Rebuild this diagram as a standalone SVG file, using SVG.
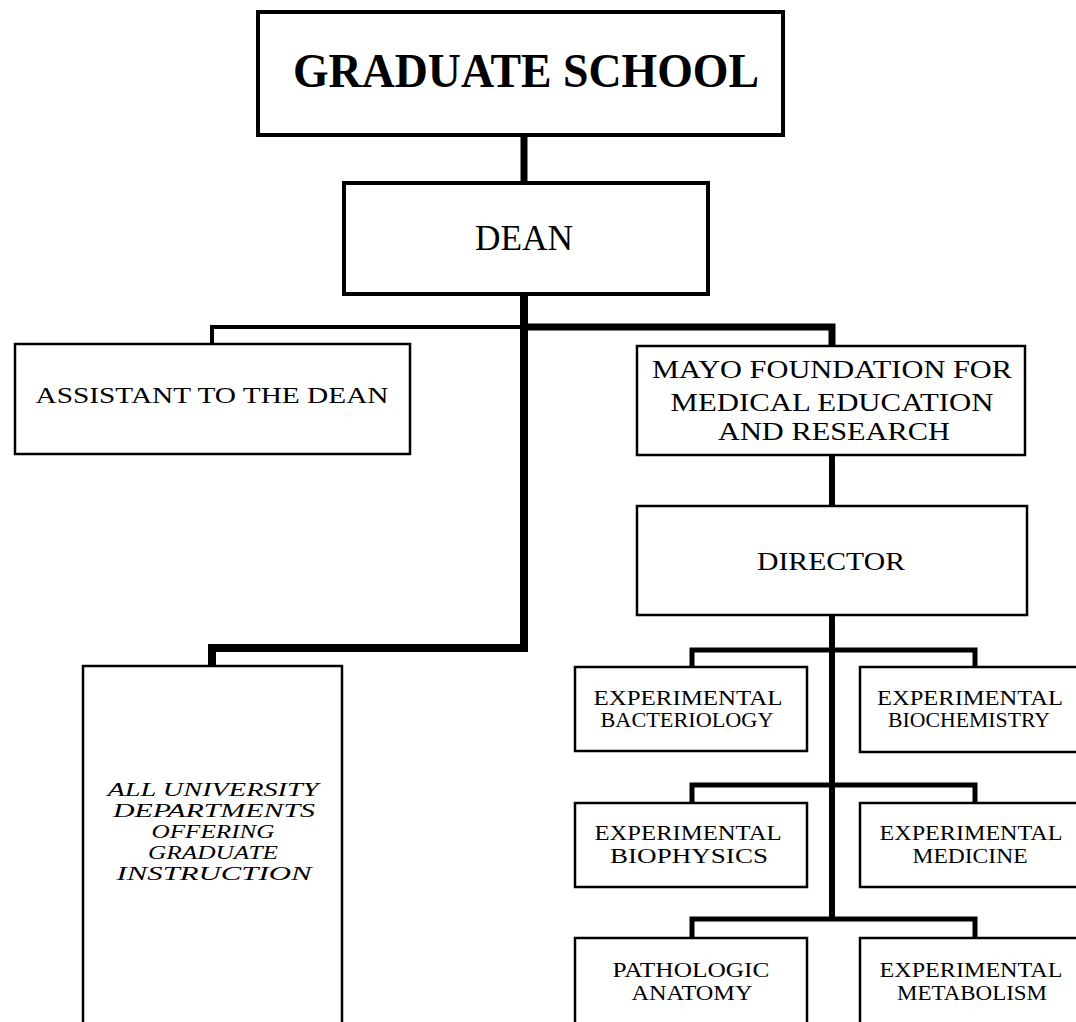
<svg xmlns="http://www.w3.org/2000/svg" width="1076" height="1022" viewBox="0 0 1076 1022">
<style>
.box{fill:#fff;stroke:#000;stroke-width:2.5}
.big{stroke-width:4}
.t{font-family:"Liberation Serif","DejaVu Serif",serif;fill:#000;text-anchor:middle}
.it{font-style:italic}
.c{fill:none;stroke:#000;stroke-linecap:butt;stroke-linejoin:miter}
</style>
<rect width="1076" height="1022" fill="#fff"/>
<g id="connectors">
<path class="c" stroke-width="7" d="M524 135 V184"/>
<path class="c" stroke-width="8" d="M524 294 V648 H212 V666"/>
<path class="c" stroke-width="4" d="M524 327 H212 V344"/>
<path class="c" stroke-width="7" d="M524 327 H832 V346"/>
<path class="c" stroke-width="6" d="M832 455 V506"/>
<path class="c" stroke-width="6" d="M832 615 V919"/>
<path class="c" stroke-width="5" d="M692 667 V650 H975 V667"/>
<path class="c" stroke-width="5" d="M692 803 V785 H975 V803"/>
<path class="c" stroke-width="5" d="M692 938 V919 H975 V938"/>
</g>
<g id="graduate-school">
<rect class="box big" x="258" y="12" width="525" height="123"/>
<text class="t" x="526" y="87" font-size="48" font-weight="bold" textLength="466" lengthAdjust="spacingAndGlyphs">GRADUATE SCHOOL</text>
</g>
<g id="dean">
<rect class="box big" x="344" y="183" width="364" height="111"/>
<text class="t" x="524" y="250" font-size="36" textLength="98" lengthAdjust="spacingAndGlyphs">DEAN</text>
</g>
<g id="assistant">
<rect class="box" x="15" y="344" width="395" height="110"/>
<text class="t" x="212" y="403" font-size="24" textLength="353" lengthAdjust="spacingAndGlyphs">ASSISTANT TO THE DEAN</text>
</g>
<g id="mayo">
<rect class="box" x="637" y="346" width="388" height="109"/>
<text class="t" x="832" y="378" font-size="26" textLength="360" lengthAdjust="spacingAndGlyphs">MAYO FOUNDATION FOR</text>
<text class="t" x="832" y="411" font-size="26" textLength="323" lengthAdjust="spacingAndGlyphs">MEDICAL EDUCATION</text>
<text class="t" x="834" y="440" font-size="26" textLength="232" lengthAdjust="spacingAndGlyphs">AND RESEARCH</text>
</g>
<g id="director">
<rect class="box" x="637" y="506" width="390" height="109"/>
<text class="t" x="831" y="570" font-size="26" textLength="148" lengthAdjust="spacingAndGlyphs">DIRECTOR</text>
</g>
<g id="all-university">
<rect class="box" x="83" y="666" width="259" height="370"/>
<text class="t it" x="213" y="796" font-size="18" textLength="211" lengthAdjust="spacingAndGlyphs">ALL UNIVERSITY</text>
<text class="t it" x="214" y="817" font-size="18" textLength="202" lengthAdjust="spacingAndGlyphs">DEPARTMENTS</text>
<text class="t it" x="213" y="838" font-size="18" textLength="123" lengthAdjust="spacingAndGlyphs">OFFERING</text>
<text class="t it" x="213" y="859" font-size="18" textLength="130" lengthAdjust="spacingAndGlyphs">GRADUATE</text>
<text class="t it" x="214" y="880" font-size="18" textLength="195" lengthAdjust="spacingAndGlyphs">INSTRUCTION</text>
</g>
<g id="bacteriology">
<rect class="box" x="575" y="667" width="232" height="84"/>
<text class="t" x="688" y="705" font-size="20" textLength="189" lengthAdjust="spacingAndGlyphs">EXPERIMENTAL</text>
<text class="t" x="687" y="727" font-size="20" textLength="173" lengthAdjust="spacingAndGlyphs">BACTERIOLOGY</text>
</g>
<g id="biochemistry">
<rect class="box" x="860" y="667" width="230" height="85"/>
<text class="t" x="970" y="705" font-size="20" textLength="186" lengthAdjust="spacingAndGlyphs">EXPERIMENTAL</text>
<text class="t" x="969" y="727" font-size="20" textLength="162" lengthAdjust="spacingAndGlyphs">BIOCHEMISTRY</text>
</g>
<g id="biophysics">
<rect class="box" x="575" y="803" width="232" height="84"/>
<text class="t" x="688" y="840" font-size="20" textLength="187" lengthAdjust="spacingAndGlyphs">EXPERIMENTAL</text>
<text class="t" x="689" y="863" font-size="20" textLength="158" lengthAdjust="spacingAndGlyphs">BIOPHYSICS</text>
</g>
<g id="medicine">
<rect class="box" x="860" y="803" width="230" height="84"/>
<text class="t" x="971" y="840" font-size="20" textLength="183" lengthAdjust="spacingAndGlyphs">EXPERIMENTAL</text>
<text class="t" x="970" y="863" font-size="20" textLength="115" lengthAdjust="spacingAndGlyphs">MEDICINE</text>
</g>
<g id="pathologic-anatomy">
<rect class="box" x="575" y="938" width="232" height="100"/>
<text class="t" x="691" y="977" font-size="20" textLength="157" lengthAdjust="spacingAndGlyphs">PATHOLOGIC</text>
<text class="t" x="692" y="1000" font-size="20" textLength="121" lengthAdjust="spacingAndGlyphs">ANATOMY</text>
</g>
<g id="metabolism">
<rect class="box" x="860" y="938" width="230" height="100"/>
<text class="t" x="971" y="977" font-size="20" textLength="183" lengthAdjust="spacingAndGlyphs">EXPERIMENTAL</text>
<text class="t" x="972" y="1000" font-size="20" textLength="150" lengthAdjust="spacingAndGlyphs">METABOLISM</text>
</g>
</svg>
